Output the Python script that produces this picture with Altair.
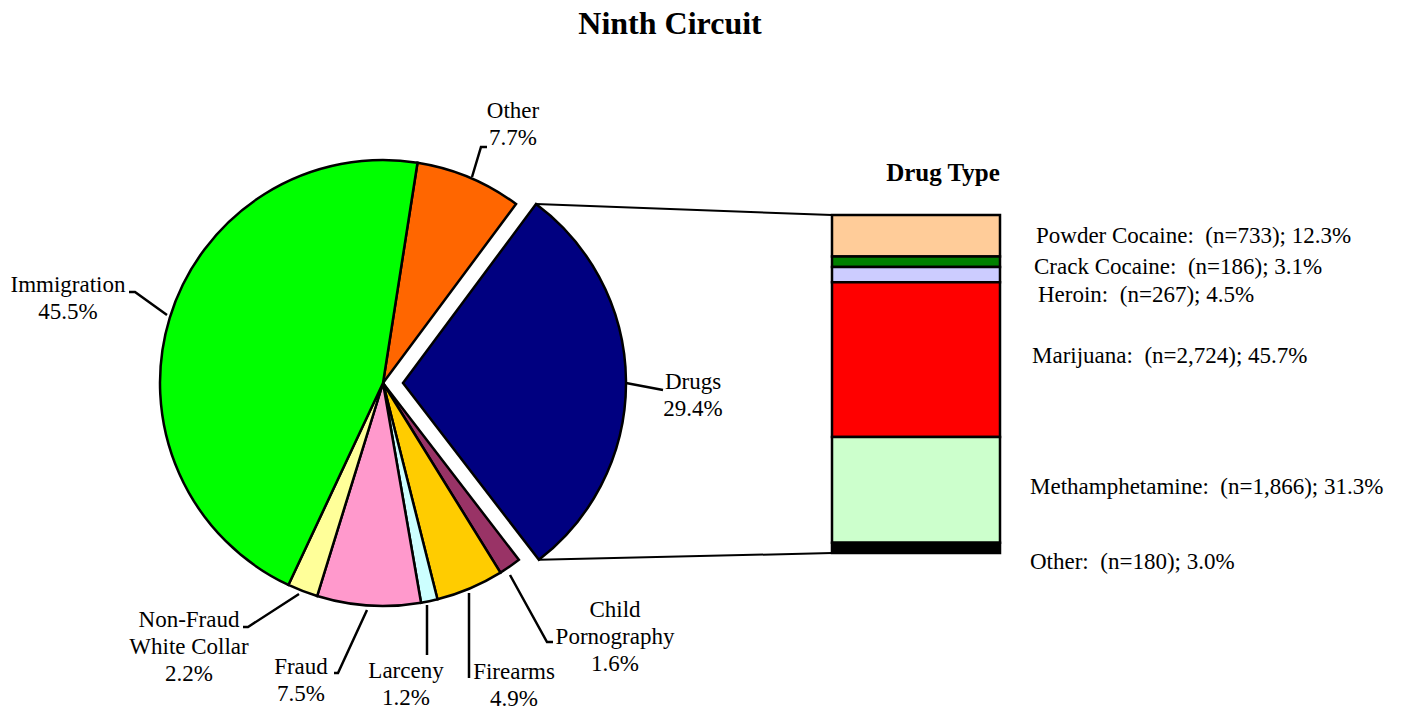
import math
import altair as alt
import pandas as pd

# ---------------- data ----------------
categories = ["Other", "Drugs", "Child Pornography", "Firearms", "Larceny",
              "Fraud", "Non-Fraud White Collar", "Immigration"]
display_names = ["Other", "Drugs", "Child\nPornography", "Firearms", "Larceny",
                 "Fraud", "Non-Fraud\nWhite Collar", "Immigration"]
shares = [7.7, 29.4, 1.6, 4.9, 1.2, 7.5, 2.2, 45.5]

drug_types = ["Powder Cocaine", "Crack Cocaine", "Heroin", "Marijuana",
              "Methamphetamine", "Other"]
drug_n = [733, 186, 267, 2724, 1866, 180]
drug_pct = [12.3, 3.1, 4.5, 45.7, 31.3, 3.0]

# ---------------- styles / layout ----------------
pie_colors = ["#FF6600", "#000080", "#993366", "#FFCC00", "#CCFFFF",
              "#FF99CC", "#FFFF99", "#00FF00"]
bar_colors = ["#FFCC99", "#008000", "#CCCCFF", "#FF0000", "#CCFFCC", "#000000"]

OFF = 8                      # page margin
W, H = 1391, 701
CX, CY, R = 383, 383, 223    # pie centre / radius (page coords)
EXPLODE = 20
T0 = math.radians(8.9)       # rotation of first slice
BAR_X0, BAR_X1, BAR_Y0, BAR_Y1 = 832, 1000, 215, 553
FONT = "Liberation Serif"
LABEL_SIZE = 23

# pie label placement (centre x, first baseline y)
pie_label_pos = {
    "Other": (513, 118),
    "Drugs": (693, 389),
    "Child Pornography": (615, 617),
    "Firearms": (514, 679),
    "Larceny": (406, 678),
    "Fraud": (301, 674),
    "Non-Fraud White Collar": (189, 627),
    "Immigration": (68, 292),
}
# leader lines (page coords)
leaders = {
    "Immigration": [(167, 315), (135, 292), (129, 292)],
    "Other": [(472, 177), (481, 147), (487, 147)],
    "Drugs": [(626, 383), (663, 390)],
    "Child Pornography": [(510, 575), (547, 642), (553, 642)],
    "Firearms": [(469, 593), (469, 678)],
    "Larceny": [(427, 605), (427, 655)],
    "Fraud": [(367, 610), (338, 673), (334, 673)],
    "Non-Fraud White Collar": [(299, 594), (248, 627), (243, 627)],
}
bar_label_pos = [(1036, 236), (1034, 267), (1038, 295), (1032, 356),
                 (1030, 487), (1030, 562)]

# ---------------- tables ----------------
pie_df = pd.DataFrame({"cat": categories, "share": shares,
                       "order": list(range(len(categories)))})

theta_scale = alt.Scale(domain=[0, 100], range=[T0, T0 + 2 * math.pi])


def pie_layer(filter_expr, cx):
    return (
        alt.Chart(pie_df)
        .transform_window(cum="sum(share)", sort=[{"field": "order"}])
        .transform_calculate(start="datum.cum - datum.share")
        .transform_filter(filter_expr)
        .mark_arc(radius=R, stroke="black", strokeWidth=2.5)
        .encode(
            theta=alt.Theta("start:Q", scale=theta_scale),
            theta2="cum:Q",
            color=alt.Color("cat:N", scale=alt.Scale(domain=categories, range=pie_colors), legend=None),
            x=alt.value(cx - OFF),
            y=alt.value(CY - OFF),
        )
    )


pie_main = pie_layer("datum.cat != 'Drugs'", CX)
pie_drugs = pie_layer("datum.cat == 'Drugs'", CX + EXPLODE)

# pie labels
lab_rows = []
for c, dn, s in zip(categories, display_names, shares):
    x, y = pie_label_pos[c]
    lab_rows.append({"text": f"{dn}\n{s:.1f}%", "x": x - OFF, "y": y - OFF})
pie_labels = (
    alt.Chart(pd.DataFrame(lab_rows))
    .mark_text(font=FONT, fontSize=LABEL_SIZE, lineBreak="\n", lineHeight=27,
               align="center", baseline="alphabetic", color="black")
    .encode(x=alt.X("x:Q", scale=None, axis=None), y=alt.Y("y:Q", scale=None, axis=None), text="text:N")
)

# leader lines
lead_rows = []
for c, pts in leaders.items():
    for k, (x, y) in enumerate(pts):
        lead_rows.append({"id": c, "k": k, "x": x - OFF, "y": y - OFF})
leader_lines = (
    alt.Chart(pd.DataFrame(lead_rows))
    .mark_line(color="black", strokeWidth=2.5, strokeJoin="miter")
    .encode(x=alt.X("x:Q", scale=None, axis=None), y=alt.Y("y:Q", scale=None, axis=None),
            detail="id:N", order="k:Q")
)

# stacked drug bar
bar_df = pd.DataFrame({"drug": drug_types, "pct": drug_pct, "order": list(range(len(drug_types)))})
total = sum(drug_pct)
bar = (
    alt.Chart(bar_df)
    .transform_window(cum="sum(pct)", sort=[{"field": "order"}])
    .transform_calculate(start="datum.cum - datum.pct")
    .mark_bar(stroke="black", strokeWidth=2.5)
    .encode(
        x=alt.value(BAR_X0 - OFF), x2=alt.value(BAR_X1 - OFF),
        y=alt.Y("start:Q", scale=alt.Scale(domain=[0, total], range=[BAR_Y0 - OFF, BAR_Y1 - OFF]), axis=None),
        y2="cum:Q",
        color=alt.Color("drug:N", scale=alt.Scale(domain=drug_types, range=bar_colors), legend=None),
    )
)

NBSP = "\u00a0"
bar_lab_rows = []
for d, n, p, (x, y) in zip(drug_types, drug_n, drug_pct, bar_label_pos):
    bar_lab_rows.append({"text": f"{d}:{NBSP} (n={n:,}); {p:.1f}%", "x": x - OFF, "y": y - OFF})
bar_labels = (
    alt.Chart(pd.DataFrame(bar_lab_rows))
    .mark_text(font=FONT, fontSize=LABEL_SIZE, align="left", baseline="middle", color="black")
    .encode(x=alt.X("x:Q", scale=None, axis=None), y=alt.Y("y:Q", scale=None, axis=None), text="text:N")
)

# connector lines from exploded slice to bar
a_top = T0 + shares[0] / 100 * 2 * math.pi
a_bot = T0 + (shares[0] + shares[1]) / 100 * 2 * math.pi
conn_df = pd.DataFrame({
    "x": [CX + EXPLODE + R * math.sin(a_top) - OFF, CX + EXPLODE + R * math.sin(a_bot) - OFF],
    "y": [CY - R * math.cos(a_top) - OFF, CY - R * math.cos(a_bot) - OFF],
    "x2": [BAR_X0 - OFF, BAR_X0 - OFF],
    "y2": [BAR_Y0 - OFF, BAR_Y1 - OFF],
})
connectors = (
    alt.Chart(conn_df)
    .mark_rule(color="black", strokeWidth=2)
    .encode(x=alt.X("x:Q", scale=None, axis=None), y=alt.Y("y:Q", scale=None, axis=None),
            x2="x2:Q", y2="y2:Q")
)

# titles
title_df = pd.DataFrame({"text": ["Ninth Circuit", "Drug Type"],
                         "x": [670 - OFF, 943 - OFF], "y": [24 - OFF, 173 - OFF],
                         "size": [32, 25]})
titles = (
    alt.Chart(title_df)
    .mark_text(font=FONT, fontWeight="bold", align="center", baseline="middle", color="black")
    .encode(x=alt.X("x:Q", scale=None, axis=None), y=alt.Y("y:Q", scale=None, axis=None),
            text="text:N", size=alt.Size("size:Q", scale=None, legend=None))
)

chart = (
    alt.layer(connectors, pie_main, pie_drugs, leader_lines, pie_labels, bar, bar_labels, titles)
    .resolve_scale(x="independent", y="independent", color="independent", size="independent")
    .properties(width=W, height=H, autosize=alt.AutoSizeParams(type="none"), padding=0, background="white")
    .configure_view(stroke=None)
)

chart.save("out.html", embed_options={"renderer": "svg", "actions": False})
